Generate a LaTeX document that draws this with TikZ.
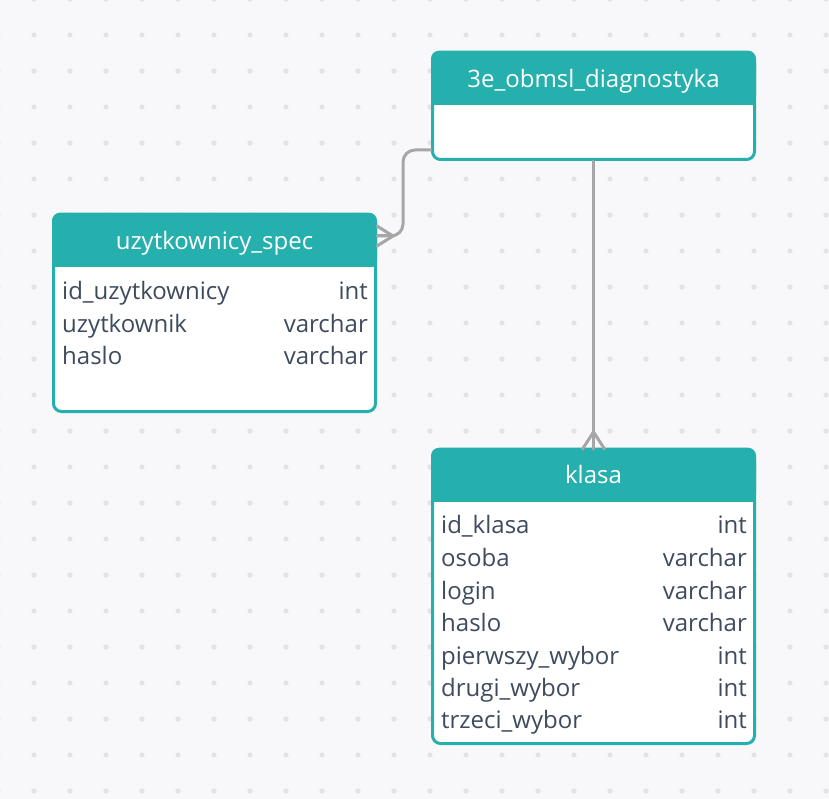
\documentclass[tikz,border=0pt]{standalone}
\usepackage{fontspec}
\setmainfont{Open Sans}
\definecolor{tblteal}{HTML}{25AFAD}
\definecolor{fieldtext}{HTML}{3E4B5E}
\definecolor{connline}{HTML}{A6A6A6}
\definecolor{canvasbg}{HTML}{F8F8FA}
\definecolor{griddot}{HTML}{E2E3E7}
\tikzset{
  tbl/.style={shape=rectangle, draw=tblteal, fill=white, line width=3pt, rounded corners=8pt, inner sep=0pt},
  tblhead/.style={shape=rectangle, fill=tblteal, rounded corners=8pt, minimum width=325pt, minimum height=54pt, inner sep=0pt, text=white},
  field/.style={inner sep=0pt, text=fieldtext, font=\fontsize{24}{29}\selectfont},
  conn/.style={draw=connline, line width=3pt, line cap=round},
}
\begin{document}
\begin{tikzpicture}[x=1pt, y=-1pt]
\fill[canvasbg] (0,0) rectangle (829,799);
\useasboundingbox (0,0) rectangle (829,799);
\foreach \dx in {-2,34,...,826} {
  \foreach \dy in {-1,35,...,791} {
    \fill[griddot] (\dx,\dy) circle (2.6pt);
  }
}
\node[tbl, minimum width=322pt, minimum height=106pt] (diag) at (593.5,106.5) {};
\node[tbl, minimum width=322pt, minimum height=196pt] (uzyt) at (214.5,313.5) {};
\node[tbl, minimum width=322pt, minimum height=293pt] (klasa) at (593.5,597) {};
\node[tblhead, anchor=north] (diaghd) at ([yshift=1.5pt]diag.north) {};
\node[tblhead, anchor=north] (uzythd) at ([yshift=1.5pt]uzyt.north) {};
\node[tblhead, anchor=north] (klasahd) at ([yshift=1.5pt]klasa.north) {};
\fill[tblteal] ([yshift=10pt]diaghd.south west) rectangle (diaghd.south east);
\fill[tblteal] ([yshift=10pt]uzythd.south west) rectangle (uzythd.south east);
\fill[tblteal] ([yshift=10pt]klasahd.south west) rectangle (klasahd.south east);
\node[field, text=white, anchor=base] (diagname) at (593.5,88) {3e\_obmsl\_diagnostyka};
\node[field, text=white, anchor=base] (uzytname) at (214.5,250) {uzytkownicy\_spec};
\node[field, text=white, anchor=base] (klasaname) at (593.5,483) {klasa};
\node[field, anchor=base west] (u1) at (62,300) {id\_uzytkownicy};
\node[field, anchor=base east] (u1t) at (368,300) {int};
\node[field, anchor=base west] (u2) at (62,332) {uzytkownik};
\node[field, anchor=base east] (u2t) at (368,332) {varchar};
\node[field, anchor=base west] (u3) at (62,364) {haslo};
\node[field, anchor=base east] (u3t) at (368,364) {varchar};
\node[field, anchor=base west] (k1) at (441,533) {id\_klasa};
\node[field, anchor=base east] (k1t) at (747,533) {int};
\node[field, anchor=base west] (k2) at (441,566) {osoba};
\node[field, anchor=base east] (k2t) at (747,566) {varchar};
\node[field, anchor=base west] (k3) at (441,599) {login};
\node[field, anchor=base east] (k3t) at (747,599) {varchar};
\node[field, anchor=base west] (k4) at (441,631) {haslo};
\node[field, anchor=base east] (k4t) at (747,631) {varchar};
\node[field, anchor=base west] (k5) at (441,664) {pierwszy\_wybor};
\node[field, anchor=base east] (k5t) at (747,664) {int};
\node[field, anchor=base west] (k6) at (441,696) {drugi\_wybor};
\node[field, anchor=base east] (k6t) at (747,696) {int};
\node[field, anchor=base west] (k7) at (441,728) {trzeci\_wybor};
\node[field, anchor=base east] (k7t) at (747,728) {int};
\coordinate (c1) at ([yshift=11pt]diag.south west);
\coordinate (c2) at ([yshift=-22pt]uzyt.north east);
\path [conn, rounded corners=12pt] (c1) -- ++(-28,0) |- (c2);
\path [conn] ([xshift=16pt]c2) -- ([yshift=10pt]c2);
\path [conn] ([xshift=16pt]c2) -- (c2);
\path [conn] ([xshift=16pt]c2) -- ([yshift=-10pt]c2);
\path [conn] (diag.south) -- (klasa.north);
\path [conn] ([yshift=17pt]klasa.north) -- ([xshift=-11pt]klasa.north);
\path [conn] ([yshift=17pt]klasa.north) -- ([xshift=11pt]klasa.north);
\end{tikzpicture}
\end{document}
